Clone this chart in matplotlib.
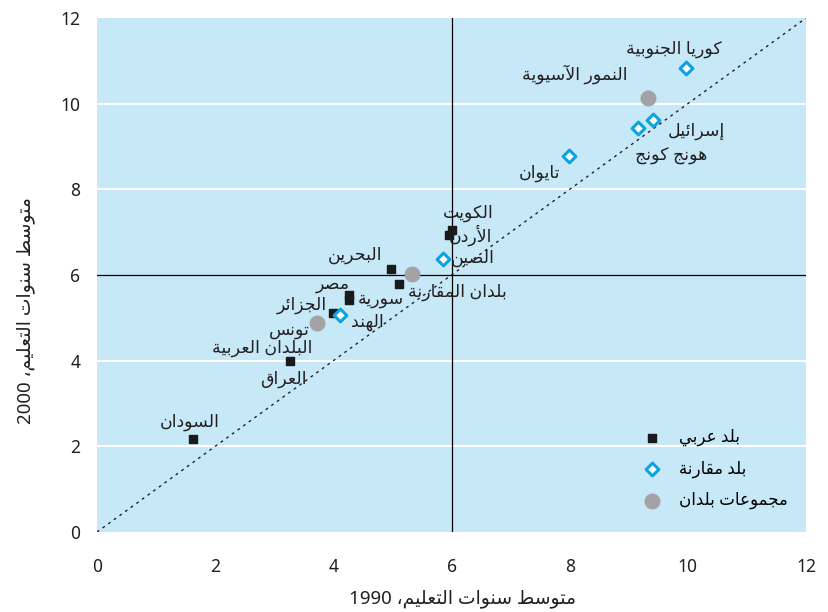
import re
import matplotlib
matplotlib.use('Agg')
import matplotlib.pyplot as plt

plt.rcParams['font.family'] = ['Noto Sans', 'DejaVu Sans']

# Arabic shaping (matplotlib has no complex text layout)
# letter -> (isolated form codepoint, number of forms)
FORMS = {
    'ء': (0xFE80, 1), 'آ': (0xFE81, 2), 'أ': (0xFE83, 2), 'ؤ': (0xFE85, 2),
    'إ': (0xFE87, 2), 'ئ': (0xFE89, 4), 'ا': (0xFE8D, 2), 'ب': (0xFE8F, 4),
    'ة': (0xFE93, 2), 'ت': (0xFE95, 4), 'ث': (0xFE99, 4), 'ج': (0xFE9D, 4),
    'ح': (0xFEA1, 4), 'خ': (0xFEA5, 4), 'د': (0xFEA9, 2), 'ذ': (0xFEAB, 2),
    'ر': (0xFEAD, 2), 'ز': (0xFEAF, 2), 'س': (0xFEB1, 4), 'ش': (0xFEB5, 4),
    'ص': (0xFEB9, 4), 'ض': (0xFEBD, 4), 'ط': (0xFEC1, 4), 'ظ': (0xFEC5, 4),
    'ع': (0xFEC9, 4), 'غ': (0xFECD, 4), 'ف': (0xFED1, 4), 'ق': (0xFED5, 4),
    'ك': (0xFED9, 4), 'ل': (0xFEDD, 4), 'م': (0xFEE1, 4), 'ن': (0xFEE5, 4),
    'ه': (0xFEE9, 4), 'و': (0xFEED, 2), 'ى': (0xFEEF, 2), 'ي': (0xFEF1, 4),
}
LAM_ALEF = {'آ': 0xFEF5, 'أ': 0xFEF7, 'إ': 0xFEF9, 'ا': 0xFEFB}


def ar(text):
    chars = list(text)
    out = []
    i = 0
    n = len(chars)
    while i < n:
        c = chars[i]
        if c not in FORMS:
            out.append(c)
            i += 1
            continue
        prev = chars[i - 1] if i > 0 else ''
        link_prev = prev in FORMS and FORMS[prev][1] == 4
        if c == 'ل' and i + 1 < n and chars[i + 1] in LAM_ALEF:
            base = LAM_ALEF[chars[i + 1]]
            out.append(chr(base + 1 if link_prev else base))
            i += 2
            continue
        base, k = FORMS[c]
        nxt = chars[i + 1] if i + 1 < n else ''
        link_next = k == 4 and nxt in FORMS and FORMS[nxt][1] > 1
        if link_prev and link_next:
            f = 3
        elif link_prev:
            f = 1
        elif link_next:
            f = 2
        else:
            f = 0
        out.append(chr(base + f))
        i += 1
    vis = ''.join(out)[::-1]
    # keep digit runs left-to-right
    return re.sub(r'[0-9]+', lambda m: m.group(0)[::-1], vis)


# Data: years of schooling 1990 (x) vs 2000 (y)
arab_names = ['الكويت', 'الأردن', 'البحرين', 'سورية', 'مصر', 'الجزائر',
              'تونس', 'العراق', 'السودان']
arab_x = [6.00, 5.95, 4.98, 5.11, 4.27, 4.27, 4.00, 3.27, 1.62]
arab_y = [7.05, 6.93, 6.14, 5.80, 5.53, 5.42, 5.11, 3.99, 2.17]

comp_names = ['الصين', 'الهند', 'تايوان', 'هونج كونج', 'إسرائيل', 'كوريا الجنوبية']
comp_x = [5.86, 4.11, 7.99, 9.16, 9.41, 9.97]
comp_y = [6.37, 5.07, 8.78, 9.43, 9.62, 10.83]

group_names = ['البلدان العربية', 'بلدان المقارنة', 'النمور الآسيوية']
group_x = [3.72, 5.33, 9.33]
group_y = [4.88, 6.02, 10.13]

# label anchor offsets in points (dx, dy), text centred on anchor
label_offsets = {
    'الكويت': (12, 12.5), 'الأردن': (16, 0), 'البحرين': (-26, 10),
    'سورية': (-13, -11), 'مصر': (-12, 8), 'الجزائر': (-34, -4),
    'تونس': (-32, -12), 'العراق': (-5, -13), 'السودان': (-2, 12),
    'الصين': (21, 1), 'الهند': (20, -5), 'تايوان': (-21, -12),
    'هونج كونج': (24, -20), 'إسرائيل': (31, -8), 'كوريا الجنوبية': (-9, 14),
    'البلدان العربية': (-39, -18), 'بلدان المقارنة': (33, -13),
    'النمور الآسيوية': (-53, 17),
}

fig = plt.figure(figsize=(8.29, 6.12), dpi=100)
ax = fig.add_axes([0.117, 0.1307, 0.8553, 0.8399])
ax.set_facecolor('#c6e8f7')

ax.set_xlim(0, 12)
ax.set_ylim(0, 12)
ax.set_xticks(range(0, 13, 2))
ax.set_yticks(range(0, 13, 2))
ax.tick_params(length=0, labelsize=12.5, colors='#231f20')
ax.tick_params(axis='x', pad=19)
ax.tick_params(axis='y', pad=12)
for s in ax.spines.values():
    s.set_visible(False)

for yv in [2, 4, 8, 10]:
    ax.axhline(yv, color='white', lw=1.5, zorder=1)
ax.axhline(6, color='black', lw=0.9, zorder=2)
ax.axvline(6, color='black', lw=0.9, zorder=2)
ax.plot([0, 12], [0, 12], color='#222222', lw=1.0, ls=(0, (2, 3)), zorder=2)

ax.scatter(arab_x, arab_y, marker='s', s=36, color='#1a1a1a', zorder=4,
           label=ar('بلد عربي'))
ax.scatter(comp_x, comp_y, marker='D', s=42, facecolor='white',
           edgecolor='#0aa4e2', linewidth=2.2, zorder=5, label=ar('بلد مقارنة'))
ax.scatter(group_x, group_y, marker='o', s=110, color='#a3a3a5', zorder=3,
           label=ar('مجموعات بلدان'))

for names, xs, ys in [(arab_names, arab_x, arab_y), (comp_names, comp_x, comp_y),
                      (group_names, group_x, group_y)]:
    for name, x, y in zip(names, xs, ys):
        dx, dy = label_offsets[name]
        ax.annotate(ar(name), (x, y), xytext=(dx, dy), textcoords='offset points',
                    ha='center', va='center', fontsize=12.5, color='#231f20',
                    zorder=6)

ax.legend(loc='lower right', bbox_to_anchor=(0.995, 0.015), frameon=False,
          fontsize=12, handletextpad=0.6, labelspacing=0.85, markerscale=1.0)

ax.set_xlabel(ar('متوسط سنوات التعليم، 1990'), fontsize=13.5, color='#231f20')
ax.xaxis.set_label_coords(0.516, -0.112)
ax.set_ylabel(ar('متوسط سنوات التعليم، 2000'), fontsize=13.5, color='#231f20')
ax.yaxis.set_label_coords(-0.088, 0.43)

fig.savefig('out.png', dpi=100)
